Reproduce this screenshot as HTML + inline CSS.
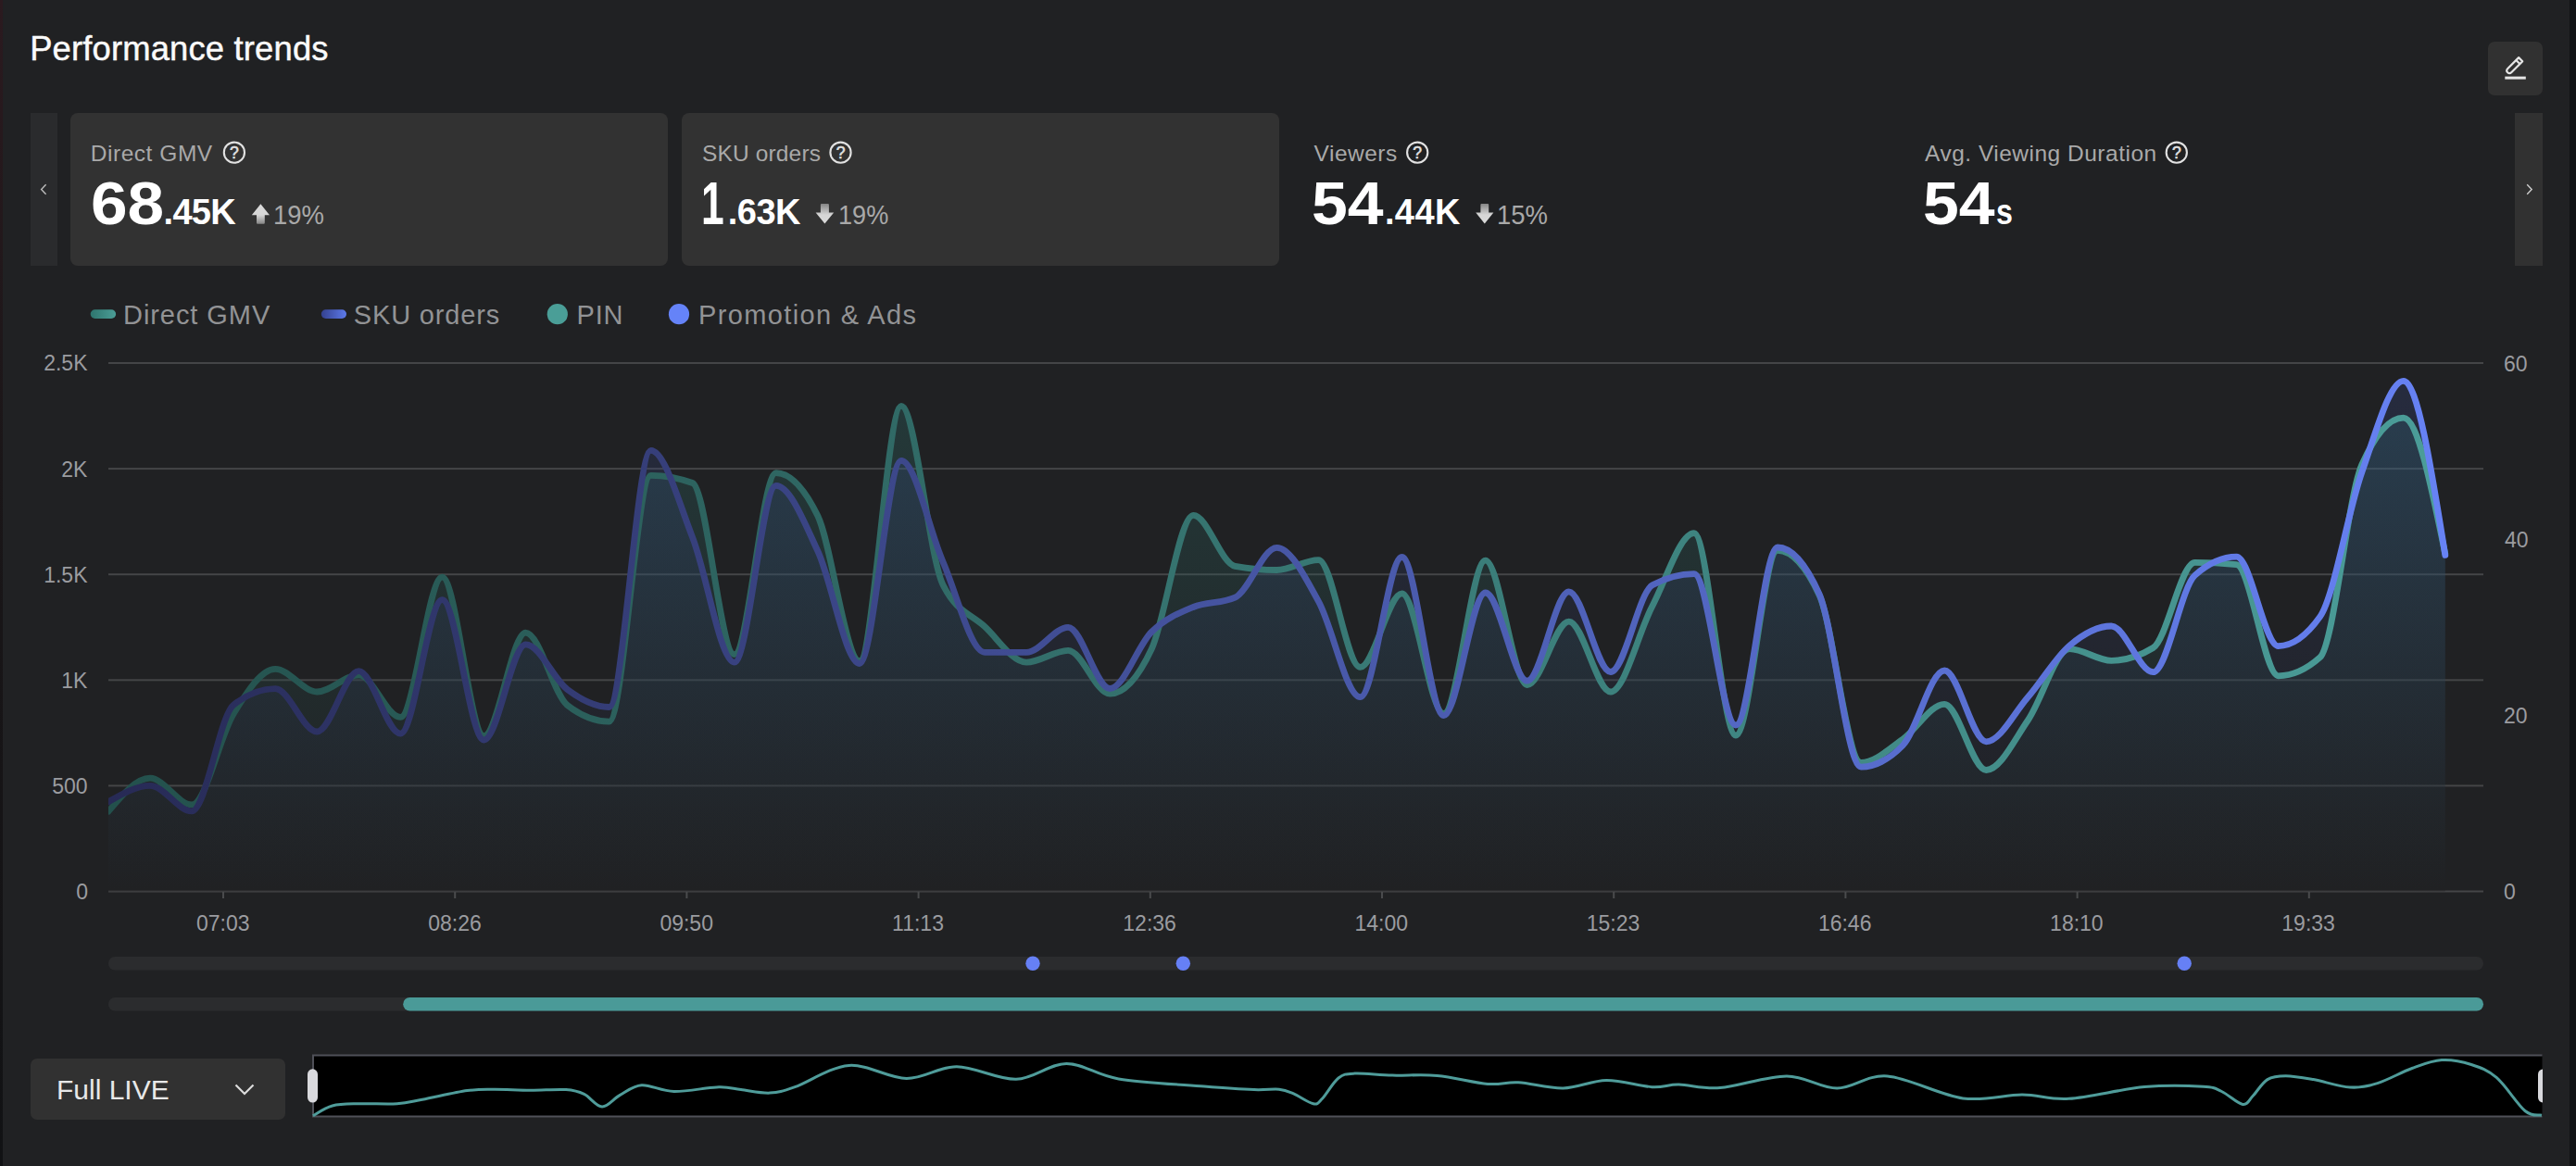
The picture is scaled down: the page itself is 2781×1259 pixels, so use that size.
<!DOCTYPE html>
<html><head><meta charset="utf-8"><title>Performance trends</title>
<style>
*{box-sizing:border-box;margin:0;padding:0}
html,body{width:2781px;height:1259px;overflow:hidden;background:#202123}
body{position:relative;font-family:"Liberation Sans",Arial,sans-serif;color:#fff}
.t{position:absolute;white-space:nowrap;line-height:1}
.lstrip{position:absolute;left:0;top:0;width:3px;height:1259px;background:linear-gradient(#2b1a1f,#1a1618 40%,#111214)}
.rstrip{position:absolute;left:2774px;top:0;width:7px;height:1259px;background:#111214}
.edit{position:absolute;left:2686px;top:44.5px;width:58.8px;height:58.8px;border-radius:7px;background:#313131}
.nav{position:absolute;top:122px;width:29.5px;height:165px;background:#2a2b2d}
.card{position:absolute;top:122px;width:645.2px;height:165px;border-radius:8px;background:#323232}
.chart{position:absolute;left:0;top:0}
.dd{position:absolute;left:33px;top:1143px;width:275px;height:65.7px;border-radius:7px;background:#313131}
</style></head><body>
<div class="lstrip"></div><div class="rstrip"></div>
<div class="edit"></div>
<div class="nav" style="left:32.5px"></div>
<div class="nav" style="left:2715.3px;background:#313131"></div>
<div class="card" style="left:76px"></div>
<div class="card" style="left:736px"></div>
<div class="dd"></div>
<svg class="chart" width="2781" height="1259" viewBox="0 0 2781 1259">
<defs>
<linearGradient id="gT" gradientUnits="userSpaceOnUse" x1="117" y1="0" x2="2640" y2="0">
<stop offset="0" stop-color="#23504c"/><stop offset="1" stop-color="#4b9d99"/></linearGradient>
<linearGradient id="gB" gradientUnits="userSpaceOnUse" x1="117" y1="0" x2="2640" y2="0">
<stop offset="0" stop-color="#272a55"/><stop offset="1" stop-color="#6782f4"/></linearGradient>
<linearGradient id="aT" gradientUnits="userSpaceOnUse" x1="0" y1="440" x2="0" y2="962">
<stop offset="0" stop-color="rgb(50,140,135)" stop-opacity="0.22"/><stop offset="1" stop-color="rgb(32,33,35)" stop-opacity="0.22"/></linearGradient>
<linearGradient id="aB" gradientUnits="userSpaceOnUse" x1="0" y1="410" x2="0" y2="962">
<stop offset="0" stop-color="rgb(60,80,160)" stop-opacity="0.22"/><stop offset="1" stop-color="rgb(32,33,35)" stop-opacity="0.22"/></linearGradient>
<linearGradient id="ag" x1="0" y1="0" x2="0" y2="1"><stop offset="0" stop-color="#dadada"/><stop offset="0.55" stop-color="#d6d6d6"/><stop offset="1" stop-color="#858585"/></linearGradient>
<linearGradient id="ag2" x1="0" y1="1" x2="0" y2="0"><stop offset="0" stop-color="#dadada"/><stop offset="0.45" stop-color="#d6d6d6"/><stop offset="1" stop-color="#858585"/></linearGradient>
<linearGradient id="pT" x1="0" y1="0" x2="1" y2="0"><stop offset="0" stop-color="#2e756e"/><stop offset="1" stop-color="#4b9d96"/></linearGradient>
<linearGradient id="pB" x1="0" y1="0" x2="1" y2="0"><stop offset="0" stop-color="#34418f"/><stop offset="1" stop-color="#5d7aea"/></linearGradient>
<clipPath id="plot"><rect x="117" y="300" width="2600" height="700"/></clipPath>
<clipPath id="cr"><rect x="2600" y="1100" width="144.9" height="120"/></clipPath>
</defs>
<rect x="117" y="391.0" width="2564" height="2" fill="#444547"/>
<rect x="117" y="505.1" width="2564" height="2" fill="#444547"/>
<rect x="117" y="619.2" width="2564" height="2" fill="#444547"/>
<rect x="117" y="733.3" width="2564" height="2" fill="#444547"/>
<rect x="117" y="847.4" width="2564" height="2" fill="#444547"/>
<rect x="117" y="961.5" width="2564" height="2" fill="#444547"/>
<rect x="240.0" y="963" width="2" height="7" fill="#4a4b4d"/>
<rect x="490.2" y="963" width="2" height="7" fill="#4a4b4d"/>
<rect x="740.4" y="963" width="2" height="7" fill="#4a4b4d"/>
<rect x="990.6" y="963" width="2" height="7" fill="#4a4b4d"/>
<rect x="1240.8" y="963" width="2" height="7" fill="#4a4b4d"/>
<rect x="1491.0" y="963" width="2" height="7" fill="#4a4b4d"/>
<rect x="1741.2" y="963" width="2" height="7" fill="#4a4b4d"/>
<rect x="1991.4" y="963" width="2" height="7" fill="#4a4b4d"/>
<rect x="2241.6" y="963" width="2" height="7" fill="#4a4b4d"/>
<rect x="2491.8" y="963" width="2" height="7" fill="#4a4b4d"/>
<path d="M117.00,876.20C132.02,858.20 147.03,840.20 162.05,840.20C177.07,840.20 192.08,868.90 207.10,868.90C222.12,868.90 237.13,795.02 252.15,770.60C267.17,746.18 282.18,722.40 297.20,722.40C312.22,722.40 327.23,747.00 342.25,747.00C357.27,747.00 372.28,728.80 387.30,728.80C402.32,728.80 417.33,774.40 432.35,774.40C447.37,774.40 462.38,623.10 477.40,623.10C492.42,623.10 507.43,794.70 522.45,794.70C537.47,794.70 552.48,683.10 567.50,683.10C582.52,683.10 597.53,749.77 612.55,761.50C627.57,773.23 642.58,779.10 657.60,779.10C672.62,779.10 687.63,513.30 702.65,513.30C717.67,513.30 732.68,516.03 747.70,521.50C762.72,526.97 777.73,706.60 792.75,706.60C807.77,706.60 822.78,510.70 837.80,510.70C852.82,510.70 867.83,526.17 882.85,557.10C897.87,588.03 912.88,713.60 927.90,713.60C942.92,713.60 957.93,438.40 972.95,438.40C987.97,438.40 1002.98,601.27 1018.00,631.40C1033.02,661.53 1048.03,662.65 1063.05,676.60C1078.07,690.55 1093.08,715.10 1108.10,715.10C1123.12,715.10 1138.13,702.40 1153.15,702.40C1168.17,702.40 1183.18,749.20 1198.20,749.20C1213.22,749.20 1228.23,732.95 1243.25,700.80C1258.27,668.65 1273.28,556.30 1288.30,556.30C1303.32,556.30 1318.33,608.50 1333.35,611.30C1348.37,614.10 1363.38,615.50 1378.40,615.50C1393.42,615.50 1408.43,604.60 1423.45,604.60C1438.47,604.60 1453.48,720.40 1468.50,720.40C1483.52,720.40 1498.53,640.80 1513.55,640.80C1528.57,640.80 1543.58,770.50 1558.60,770.50C1573.62,770.50 1588.63,605.20 1603.65,605.20C1618.67,605.20 1633.68,739.50 1648.70,739.50C1663.72,739.50 1678.73,671.10 1693.75,671.10C1708.77,671.10 1723.78,747.00 1738.80,747.00C1753.82,747.00 1768.83,682.85 1783.85,654.30C1798.87,625.75 1813.88,575.70 1828.90,575.70C1843.92,575.70 1858.93,794.00 1873.95,794.00C1888.97,794.00 1903.98,594.40 1919.00,594.40C1934.02,594.40 1949.03,610.43 1964.05,642.50C1979.07,674.57 1994.08,823.50 2009.10,823.50C2024.12,823.50 2039.13,808.73 2054.15,798.20C2069.17,787.67 2084.18,760.30 2099.20,760.30C2114.22,760.30 2129.23,831.50 2144.25,831.50C2159.27,831.50 2174.28,799.50 2189.30,777.70C2204.32,755.90 2219.33,700.70 2234.35,700.70C2249.37,700.70 2264.38,713.30 2279.40,713.30C2294.42,713.30 2309.43,708.70 2324.45,699.50C2339.47,690.30 2354.48,607.40 2369.50,607.40C2384.52,607.40 2399.53,608.13 2414.55,609.60C2429.57,611.07 2444.58,729.80 2459.60,729.80C2474.62,729.80 2489.63,723.13 2504.65,709.80C2519.67,696.47 2534.68,535.93 2549.70,502.00C2564.72,468.07 2579.73,451.10 2594.75,451.10C2609.77,451.10 2624.78,524.55 2639.80,598.00L2639.80,962.5L117.0,962.5Z" fill="url(#aT)"/>
<path d="M117.00,865.80C132.02,857.05 147.03,848.30 162.05,848.30C177.07,848.30 192.08,875.90 207.10,875.90C222.12,875.90 237.13,772.77 252.15,761.10C267.17,749.43 282.18,743.60 297.20,743.60C312.22,743.60 327.23,790.00 342.25,790.00C357.27,790.00 372.28,724.70 387.30,724.70C402.32,724.70 417.33,792.10 432.35,792.10C447.37,792.10 462.38,647.70 477.40,647.70C492.42,647.70 507.43,799.00 522.45,799.00C537.47,799.00 552.48,695.90 567.50,695.90C582.52,695.90 597.53,733.23 612.55,744.50C627.57,755.77 642.58,763.50 657.60,763.50C672.62,763.50 687.63,486.40 702.65,486.40C717.67,486.40 732.68,542.27 747.70,580.40C762.72,618.53 777.73,715.20 792.75,715.20C807.77,715.20 822.78,524.40 837.80,524.40C852.82,524.40 867.83,562.98 882.85,595.00C897.87,627.02 912.88,716.50 927.90,716.50C942.92,716.50 957.93,497.30 972.95,497.30C987.97,497.30 1002.98,572.10 1018.00,606.60C1033.02,641.10 1048.03,704.30 1063.05,704.30C1078.07,704.30 1093.08,704.30 1108.10,704.30C1123.12,704.30 1138.13,677.40 1153.15,677.40C1168.17,677.40 1183.18,743.50 1198.20,743.50C1213.22,743.50 1228.23,696.97 1243.25,682.30C1258.27,667.63 1273.28,661.68 1288.30,655.50C1303.32,649.32 1318.33,652.07 1333.35,645.20C1348.37,638.33 1363.38,591.30 1378.40,591.30C1393.42,591.30 1408.43,622.50 1423.45,649.40C1438.47,676.30 1453.48,752.70 1468.50,752.70C1483.52,752.70 1498.53,601.50 1513.55,601.50C1528.57,601.50 1543.58,772.70 1558.60,772.70C1573.62,772.70 1588.63,640.00 1603.65,640.00C1618.67,640.00 1633.68,735.20 1648.70,735.20C1663.72,735.20 1678.73,638.90 1693.75,638.90C1708.77,638.90 1723.78,725.50 1738.80,725.50C1753.82,725.50 1768.83,639.93 1783.85,631.80C1798.87,623.67 1813.88,619.60 1828.90,619.60C1843.92,619.60 1858.93,783.00 1873.95,783.00C1888.97,783.00 1903.98,591.00 1919.00,591.00C1934.02,591.00 1949.03,607.80 1964.05,641.40C1979.07,675.00 1994.08,828.10 2009.10,828.10C2024.12,828.10 2039.13,820.40 2054.15,805.00C2069.17,789.60 2084.18,724.00 2099.20,724.00C2114.22,724.00 2129.23,800.80 2144.25,800.80C2159.27,800.80 2174.28,770.00 2189.30,752.70C2204.32,735.40 2219.33,709.78 2234.35,697.00C2249.37,684.22 2264.38,676.00 2279.40,676.00C2294.42,676.00 2309.43,725.70 2324.45,725.70C2339.47,725.70 2354.48,634.70 2369.50,621.30C2384.52,607.90 2399.53,601.20 2414.55,601.20C2429.57,601.20 2444.58,697.60 2459.60,697.60C2474.62,697.60 2489.63,687.03 2504.65,665.90C2519.67,644.77 2534.68,552.73 2549.70,510.30C2564.72,467.87 2579.73,411.30 2594.75,411.30C2609.77,411.30 2624.78,505.35 2639.80,599.40L2639.80,962.5L117.0,962.5Z" fill="url(#aB)"/>
<path d="M117.00,876.20C132.02,858.20 147.03,840.20 162.05,840.20C177.07,840.20 192.08,868.90 207.10,868.90C222.12,868.90 237.13,795.02 252.15,770.60C267.17,746.18 282.18,722.40 297.20,722.40C312.22,722.40 327.23,747.00 342.25,747.00C357.27,747.00 372.28,728.80 387.30,728.80C402.32,728.80 417.33,774.40 432.35,774.40C447.37,774.40 462.38,623.10 477.40,623.10C492.42,623.10 507.43,794.70 522.45,794.70C537.47,794.70 552.48,683.10 567.50,683.10C582.52,683.10 597.53,749.77 612.55,761.50C627.57,773.23 642.58,779.10 657.60,779.10C672.62,779.10 687.63,513.30 702.65,513.30C717.67,513.30 732.68,516.03 747.70,521.50C762.72,526.97 777.73,706.60 792.75,706.60C807.77,706.60 822.78,510.70 837.80,510.70C852.82,510.70 867.83,526.17 882.85,557.10C897.87,588.03 912.88,713.60 927.90,713.60C942.92,713.60 957.93,438.40 972.95,438.40C987.97,438.40 1002.98,601.27 1018.00,631.40C1033.02,661.53 1048.03,662.65 1063.05,676.60C1078.07,690.55 1093.08,715.10 1108.10,715.10C1123.12,715.10 1138.13,702.40 1153.15,702.40C1168.17,702.40 1183.18,749.20 1198.20,749.20C1213.22,749.20 1228.23,732.95 1243.25,700.80C1258.27,668.65 1273.28,556.30 1288.30,556.30C1303.32,556.30 1318.33,608.50 1333.35,611.30C1348.37,614.10 1363.38,615.50 1378.40,615.50C1393.42,615.50 1408.43,604.60 1423.45,604.60C1438.47,604.60 1453.48,720.40 1468.50,720.40C1483.52,720.40 1498.53,640.80 1513.55,640.80C1528.57,640.80 1543.58,770.50 1558.60,770.50C1573.62,770.50 1588.63,605.20 1603.65,605.20C1618.67,605.20 1633.68,739.50 1648.70,739.50C1663.72,739.50 1678.73,671.10 1693.75,671.10C1708.77,671.10 1723.78,747.00 1738.80,747.00C1753.82,747.00 1768.83,682.85 1783.85,654.30C1798.87,625.75 1813.88,575.70 1828.90,575.70C1843.92,575.70 1858.93,794.00 1873.95,794.00C1888.97,794.00 1903.98,594.40 1919.00,594.40C1934.02,594.40 1949.03,610.43 1964.05,642.50C1979.07,674.57 1994.08,823.50 2009.10,823.50C2024.12,823.50 2039.13,808.73 2054.15,798.20C2069.17,787.67 2084.18,760.30 2099.20,760.30C2114.22,760.30 2129.23,831.50 2144.25,831.50C2159.27,831.50 2174.28,799.50 2189.30,777.70C2204.32,755.90 2219.33,700.70 2234.35,700.70C2249.37,700.70 2264.38,713.30 2279.40,713.30C2294.42,713.30 2309.43,708.70 2324.45,699.50C2339.47,690.30 2354.48,607.40 2369.50,607.40C2384.52,607.40 2399.53,608.13 2414.55,609.60C2429.57,611.07 2444.58,729.80 2459.60,729.80C2474.62,729.80 2489.63,723.13 2504.65,709.80C2519.67,696.47 2534.68,535.93 2549.70,502.00C2564.72,468.07 2579.73,451.10 2594.75,451.10C2609.77,451.10 2624.78,524.55 2639.80,598.00" fill="none" stroke="url(#gT)" stroke-width="6.8" stroke-linejoin="round" stroke-linecap="round" clip-path="url(#plot)"/>
<path d="M117.00,865.80C132.02,857.05 147.03,848.30 162.05,848.30C177.07,848.30 192.08,875.90 207.10,875.90C222.12,875.90 237.13,772.77 252.15,761.10C267.17,749.43 282.18,743.60 297.20,743.60C312.22,743.60 327.23,790.00 342.25,790.00C357.27,790.00 372.28,724.70 387.30,724.70C402.32,724.70 417.33,792.10 432.35,792.10C447.37,792.10 462.38,647.70 477.40,647.70C492.42,647.70 507.43,799.00 522.45,799.00C537.47,799.00 552.48,695.90 567.50,695.90C582.52,695.90 597.53,733.23 612.55,744.50C627.57,755.77 642.58,763.50 657.60,763.50C672.62,763.50 687.63,486.40 702.65,486.40C717.67,486.40 732.68,542.27 747.70,580.40C762.72,618.53 777.73,715.20 792.75,715.20C807.77,715.20 822.78,524.40 837.80,524.40C852.82,524.40 867.83,562.98 882.85,595.00C897.87,627.02 912.88,716.50 927.90,716.50C942.92,716.50 957.93,497.30 972.95,497.30C987.97,497.30 1002.98,572.10 1018.00,606.60C1033.02,641.10 1048.03,704.30 1063.05,704.30C1078.07,704.30 1093.08,704.30 1108.10,704.30C1123.12,704.30 1138.13,677.40 1153.15,677.40C1168.17,677.40 1183.18,743.50 1198.20,743.50C1213.22,743.50 1228.23,696.97 1243.25,682.30C1258.27,667.63 1273.28,661.68 1288.30,655.50C1303.32,649.32 1318.33,652.07 1333.35,645.20C1348.37,638.33 1363.38,591.30 1378.40,591.30C1393.42,591.30 1408.43,622.50 1423.45,649.40C1438.47,676.30 1453.48,752.70 1468.50,752.70C1483.52,752.70 1498.53,601.50 1513.55,601.50C1528.57,601.50 1543.58,772.70 1558.60,772.70C1573.62,772.70 1588.63,640.00 1603.65,640.00C1618.67,640.00 1633.68,735.20 1648.70,735.20C1663.72,735.20 1678.73,638.90 1693.75,638.90C1708.77,638.90 1723.78,725.50 1738.80,725.50C1753.82,725.50 1768.83,639.93 1783.85,631.80C1798.87,623.67 1813.88,619.60 1828.90,619.60C1843.92,619.60 1858.93,783.00 1873.95,783.00C1888.97,783.00 1903.98,591.00 1919.00,591.00C1934.02,591.00 1949.03,607.80 1964.05,641.40C1979.07,675.00 1994.08,828.10 2009.10,828.10C2024.12,828.10 2039.13,820.40 2054.15,805.00C2069.17,789.60 2084.18,724.00 2099.20,724.00C2114.22,724.00 2129.23,800.80 2144.25,800.80C2159.27,800.80 2174.28,770.00 2189.30,752.70C2204.32,735.40 2219.33,709.78 2234.35,697.00C2249.37,684.22 2264.38,676.00 2279.40,676.00C2294.42,676.00 2309.43,725.70 2324.45,725.70C2339.47,725.70 2354.48,634.70 2369.50,621.30C2384.52,607.90 2399.53,601.20 2414.55,601.20C2429.57,601.20 2444.58,697.60 2459.60,697.60C2474.62,697.60 2489.63,687.03 2504.65,665.90C2519.67,644.77 2534.68,552.73 2549.70,510.30C2564.72,467.87 2579.73,411.30 2594.75,411.30C2609.77,411.30 2624.78,505.35 2639.80,599.40" fill="none" stroke="url(#gB)" stroke-width="6.8" stroke-linejoin="round" stroke-linecap="round" clip-path="url(#plot)"/>
<rect x="117" y="1033" width="2564" height="14.5" rx="7.25" fill="#2b2c2e"/>
<circle cx="1115" cy="1040.2" r="7.7" fill="#6680f5"/>
<circle cx="1277.3" cy="1040.2" r="7.7" fill="#6680f5"/>
<circle cx="2358.2" cy="1040.2" r="7.7" fill="#6680f5"/>
<rect x="117" y="1077" width="2564" height="14.5" rx="7.25" fill="#2b2c2e"/>
<rect x="435.2" y="1077" width="2245.8" height="14.5" rx="7.25" fill="#4a9a98"/>
<rect x="338" y="1139.5" width="2406.5" height="66" fill="#000"/>
<path d="M2744.5,1139.5 H338 V1205.5 H2744.5" fill="none" stroke="#4f5058" stroke-width="2"/>
<path d="M337.90,1204.70C341.38,1202.92 350.45,1196.17 358.80,1194.00C367.15,1191.83 376.35,1192.08 388.00,1191.70C399.65,1191.32 417.38,1192.43 428.70,1191.70C440.02,1190.97 443.28,1189.65 455.90,1187.30C468.52,1184.95 491.47,1179.45 504.40,1177.60C517.33,1175.75 522.18,1176.27 533.50,1176.20C544.82,1176.13 559.37,1177.13 572.30,1177.20C585.23,1177.27 601.38,1175.90 611.10,1176.60C620.82,1177.30 624.12,1178.33 630.60,1181.40C637.08,1184.47 643.53,1194.83 650.00,1195.00C656.47,1195.17 662.28,1186.28 669.40,1182.40C676.52,1178.52 683.00,1172.35 692.70,1171.70C702.40,1171.05 713.70,1178.17 727.60,1178.50C741.50,1178.83 764.03,1174.02 776.10,1173.70C788.17,1173.38 790.83,1175.53 800.00,1176.60C809.17,1177.67 821.40,1180.58 831.10,1180.10C840.80,1179.62 843.97,1178.65 858.20,1173.70C872.43,1168.75 896.43,1151.93 916.50,1150.40C936.57,1148.87 959.20,1164.28 978.60,1164.50C998.00,1164.72 1013.17,1151.57 1032.90,1151.70C1052.63,1151.83 1077.27,1165.85 1097.00,1165.30C1116.73,1164.75 1132.87,1148.47 1151.30,1148.40C1169.73,1148.33 1182.82,1160.78 1207.60,1164.90C1232.38,1169.02 1275.63,1171.15 1300.00,1173.10C1324.37,1175.05 1340.32,1176.08 1353.80,1176.60C1367.28,1177.12 1373.78,1175.48 1380.90,1176.20C1388.02,1176.92 1390.35,1178.32 1396.50,1180.90C1402.65,1183.48 1412.63,1190.80 1417.80,1191.70C1422.97,1192.60 1422.97,1190.92 1427.50,1186.30C1432.03,1181.68 1439.17,1168.53 1445.00,1164.00C1450.83,1159.47 1452.80,1159.58 1462.50,1159.10C1472.20,1158.62 1488.33,1160.72 1503.20,1161.10C1518.07,1161.48 1534.55,1159.85 1551.70,1161.40C1568.85,1162.95 1591.53,1169.17 1606.10,1170.40C1620.67,1171.63 1625.52,1168.03 1639.10,1168.80C1652.68,1169.57 1671.75,1175.38 1687.60,1175.00C1703.45,1174.62 1718.25,1166.72 1734.20,1166.50C1750.15,1166.28 1770.27,1172.93 1783.30,1173.70C1796.33,1174.47 1800.12,1170.95 1812.40,1171.10C1824.68,1171.25 1837.58,1176.12 1857.00,1174.60C1876.42,1173.08 1907.87,1161.93 1928.90,1162.00C1949.93,1162.07 1965.08,1175.00 1983.20,1175.00C2001.32,1175.00 2014.95,1160.18 2037.60,1162.00C2060.25,1163.82 2094.85,1182.57 2119.10,1185.90C2143.35,1189.23 2164.02,1181.93 2183.10,1182.00C2202.18,1182.07 2211.58,1187.70 2233.60,1186.30C2255.62,1184.90 2291.03,1175.78 2315.20,1173.60C2339.37,1171.42 2364.73,1172.38 2378.60,1173.20C2392.47,1174.02 2391.30,1175.30 2398.40,1178.50C2405.50,1181.70 2415.60,1191.57 2421.20,1192.40C2426.80,1193.23 2427.55,1187.97 2432.00,1183.50C2436.45,1179.03 2441.95,1169.23 2447.90,1165.60C2453.85,1161.97 2459.45,1161.70 2467.70,1161.70C2475.95,1161.70 2485.85,1163.55 2497.40,1165.60C2508.95,1167.65 2525.45,1173.33 2537.00,1174.00C2548.55,1174.67 2555.53,1173.02 2566.70,1169.60C2577.87,1166.18 2592.45,1157.67 2604.00,1153.50C2615.55,1149.33 2625.33,1145.27 2636.00,1144.60C2646.67,1143.93 2658.10,1146.32 2668.00,1149.50C2677.90,1152.68 2685.73,1155.37 2695.40,1163.70C2705.07,1172.03 2717.90,1192.75 2726.00,1199.50C2734.10,1206.25 2741.00,1203.42 2744.00,1204.20" fill="none" stroke="#4f9c9a" stroke-width="3"/>
<rect x="332" y="1154.3" width="11" height="36.3" rx="5.5" fill="#d9d9dd"/>
<rect x="2740" y="1154.5" width="11" height="36" rx="5.5" fill="#d9d9dd" clip-path="url(#cr)"/>
<path d="M254.5,1171.5 L264,1181 L273.5,1171.5" fill="none" stroke="#dcdcdc" stroke-width="2.2"/>
<g transform="translate(2714.7,70.7) rotate(-45)" fill="none" stroke="#e6e6e6" stroke-width="2.2" stroke-linejoin="round">
<path d="M-7.5,-2.9 L9.2,-2.9 L9.2,2.9 L-7.5,2.9 Q-10.6,2.9 -10.6,0 Q-10.6,-2.9 -7.5,-2.9 Z"/>
<path d="M5.2,-2.9 L5.2,2.9"/></g>
<rect x="2704.3" y="82.6" width="22.5" height="3" fill="#e6e6e6"/>
<path d="M49.6,199.3 L44.6,204.5 L49.6,209.7" fill="none" stroke="#c0c0c0" stroke-width="1.35"/>
<path d="M2728.2,199.3 L2733.2,204.5 L2728.2,209.7" fill="none" stroke="#d0d0d0" stroke-width="1.35"/>
<circle cx="252.9" cy="164.7" r="11.1" fill="none" stroke="#e2e2e2" stroke-width="2.1"/>
<text x="252.9" y="171.0" text-anchor="middle" font-family="Liberation Sans, sans-serif" font-size="17.5" fill="#e2e2e2" stroke="#e2e2e2" stroke-width="0.55">?</text>
<circle cx="907.5" cy="164.7" r="11.1" fill="none" stroke="#e2e2e2" stroke-width="2.1"/>
<text x="907.5" y="171.0" text-anchor="middle" font-family="Liberation Sans, sans-serif" font-size="17.5" fill="#e2e2e2" stroke="#e2e2e2" stroke-width="0.55">?</text>
<circle cx="1530.2" cy="164.7" r="11.1" fill="none" stroke="#e2e2e2" stroke-width="2.1"/>
<text x="1530.2" y="171.0" text-anchor="middle" font-family="Liberation Sans, sans-serif" font-size="17.5" fill="#e2e2e2" stroke="#e2e2e2" stroke-width="0.55">?</text>
<circle cx="2349.8" cy="164.7" r="11.1" fill="none" stroke="#e2e2e2" stroke-width="2.1"/>
<text x="2349.8" y="171.0" text-anchor="middle" font-family="Liberation Sans, sans-serif" font-size="17.5" fill="#e2e2e2" stroke="#e2e2e2" stroke-width="0.55">?</text>
<path d="M281.4,220.3 L291.0,232.3 L285.8,232.3 L285.8,240.7 Q285.8,241.7 284.8,241.7 L278.0,241.7 Q277.0,241.7 277.0,240.7 L277.0,232.3 L271.8,232.3 Z" fill="url(#ag)"/>
<path d="M890.4,241.6 L900.2,229.6 L894.9,229.6 L894.9,221.1 Q894.9,220.1 893.9,220.1 L886.9,220.1 Q885.9,220.1 885.9,221.1 L885.9,229.6 L880.6,229.6 Z" fill="url(#ag2)"/>
<path d="M1602.8,241.6 L1612.4,229.5 L1607.2,229.5 L1607.2,221.0 Q1607.2,220.0 1606.2,220.0 L1599.4,220.0 Q1598.4,220.0 1598.4,221.0 L1598.4,229.5 L1593.2,229.5 Z" fill="url(#ag2)"/>
<rect x="97.7" y="334.2" width="27.4" height="9.8" rx="4.9" fill="url(#pT)"/>
<rect x="346.8" y="334.2" width="27.2" height="9.8" rx="4.9" fill="url(#pB)"/>
<circle cx="601.8" cy="339.2" r="11.1" fill="#4a9e97"/>
<circle cx="733" cy="339.2" r="11.1" fill="#6583f8"/>
</svg>
<div class="t" style="left:32.20px;top:35.20px;font-family:'Liberation Sans',sans-serif;font-size:36.4px;-webkit-text-stroke:0.45px #fafafa;letter-spacing:0.16px;color:#fafafa">Performance trends</div>
<div class="t" style="left:97.80px;top:153.80px;font-family:'Liberation Sans',sans-serif;font-size:24.5px;letter-spacing:0.53px;color:#a9a9a9">Direct GMV</div>
<div class="t" style="left:757.90px;top:153.80px;font-family:'Liberation Sans',sans-serif;font-size:24.5px;letter-spacing:0.16px;color:#a9a9a9">SKU orders</div>
<div class="t" style="left:1418.60px;top:153.80px;font-family:'Liberation Sans',sans-serif;font-size:24.5px;letter-spacing:0.48px;color:#a9a9a9">Viewers</div>
<div class="t" style="left:2078.00px;top:153.80px;font-family:'Liberation Sans',sans-serif;font-size:24.5px;letter-spacing:0.50px;color:#a9a9a9">Avg. Viewing Duration</div>
<div class="t" style="left:98.18px;top:187.90px;font-family:'Liberation Sans',sans-serif;font-size:64px;font-weight:bold;transform:scaleX(1.1119);transform-origin:0 0;color:#fff">68</div>
<div class="t" style="left:756.83px;top:187.90px;font-family:'Liberation Sans',sans-serif;font-size:64px;font-weight:bold;transform:scaleX(0.6933);transform-origin:0 0;color:#fff">1</div>
<div class="t" style="left:1416.42px;top:187.90px;font-family:'Liberation Sans',sans-serif;font-size:64px;font-weight:bold;transform:scaleX(1.0899);transform-origin:0 0;color:#fff">54</div>
<div class="t" style="left:2076.42px;top:187.90px;font-family:'Liberation Sans',sans-serif;font-size:64px;font-weight:bold;transform:scaleX(1.0899);transform-origin:0 0;color:#fff">54</div>
<div class="t" style="left:176.60px;top:209.90px;font-family:'Liberation Sans',sans-serif;font-size:38px;font-weight:bold;letter-spacing:-0.73px;color:#fff">.45K</div>
<div class="t" style="left:785.80px;top:209.90px;font-family:'Liberation Sans',sans-serif;font-size:38px;font-weight:bold;letter-spacing:-0.53px;color:#fff">.63K</div>
<div class="t" style="left:1494.90px;top:209.90px;font-family:'Liberation Sans',sans-serif;font-size:38px;font-weight:bold;letter-spacing:0.40px;color:#fff">.44K</div>
<div class="t" style="left:2154.85px;top:209.90px;font-family:'Liberation Sans',sans-serif;font-size:38px;font-weight:bold;transform:scaleX(0.8474);transform-origin:0 0;color:#fff">s</div>
<div class="t" style="left:294.77px;top:216.60px;font-family:'Liberation Sans',sans-serif;font-size:30px;transform:scaleX(0.9158);transform-origin:0 0;color:#a9a9a9">19%</div>
<div class="t" style="left:904.69px;top:216.60px;font-family:'Liberation Sans',sans-serif;font-size:30px;transform:scaleX(0.9035);transform-origin:0 0;color:#a9a9a9">19%</div>
<div class="t" style="left:1616.17px;top:216.60px;font-family:'Liberation Sans',sans-serif;font-size:30px;transform:scaleX(0.9158);transform-origin:0 0;color:#a9a9a9">15%</div>
<div class="t" style="left:133.00px;top:325.50px;font-family:'Liberation Sans',sans-serif;font-size:29px;letter-spacing:0.94px;color:#929395">Direct GMV</div>
<div class="t" style="left:381.80px;top:325.50px;font-family:'Liberation Sans',sans-serif;font-size:29px;letter-spacing:0.84px;color:#929395">SKU orders</div>
<div class="t" style="left:622.60px;top:325.50px;font-family:'Liberation Sans',sans-serif;font-size:29px;letter-spacing:0.70px;color:#929395">PIN</div>
<div class="t" style="left:754.00px;top:325.50px;font-family:'Liberation Sans',sans-serif;font-size:29px;letter-spacing:1.36px;color:#929395">Promotion &amp; Ads</div>
<div class="t" style="left:47.20px;top:381.40px;font-family:'Liberation Sans',sans-serif;font-size:23px;color:#9b9ca0">2.5K</div>
<div class="t" style="left:66.20px;top:495.50px;font-family:'Liberation Sans',sans-serif;font-size:23px;color:#9b9ca0">2K</div>
<div class="t" style="left:47.20px;top:609.60px;font-family:'Liberation Sans',sans-serif;font-size:23px;color:#9b9ca0">1.5K</div>
<div class="t" style="left:66.20px;top:723.70px;font-family:'Liberation Sans',sans-serif;font-size:23px;color:#9b9ca0">1K</div>
<div class="t" style="left:56.20px;top:837.80px;font-family:'Liberation Sans',sans-serif;font-size:23px;color:#9b9ca0">500</div>
<div class="t" style="left:82.20px;top:951.90px;font-family:'Liberation Sans',sans-serif;font-size:23px;color:#9b9ca0">0</div>
<div class="t" style="left:2703.00px;top:381.50px;font-family:'Liberation Sans',sans-serif;font-size:23px;color:#9b9ca0">60</div>
<div class="t" style="left:2704.00px;top:571.50px;font-family:'Liberation Sans',sans-serif;font-size:23px;color:#9b9ca0">40</div>
<div class="t" style="left:2703.00px;top:761.50px;font-family:'Liberation Sans',sans-serif;font-size:23px;color:#9b9ca0">20</div>
<div class="t" style="left:2703.00px;top:951.50px;font-family:'Liberation Sans',sans-serif;font-size:23px;color:#9b9ca0">0</div>
<div class="t" style="left:212.00px;top:985.50px;font-family:'Liberation Sans',sans-serif;font-size:23px;color:#9b9ca0">07:03</div>
<div class="t" style="left:462.20px;top:985.50px;font-family:'Liberation Sans',sans-serif;font-size:23px;color:#9b9ca0">08:26</div>
<div class="t" style="left:712.40px;top:985.50px;font-family:'Liberation Sans',sans-serif;font-size:23px;color:#9b9ca0">09:50</div>
<div class="t" style="left:963.10px;top:985.50px;font-family:'Liberation Sans',sans-serif;font-size:23px;color:#9b9ca0">11:13</div>
<div class="t" style="left:1212.30px;top:985.50px;font-family:'Liberation Sans',sans-serif;font-size:23px;color:#9b9ca0">12:36</div>
<div class="t" style="left:1462.50px;top:985.50px;font-family:'Liberation Sans',sans-serif;font-size:23px;color:#9b9ca0">14:00</div>
<div class="t" style="left:1712.70px;top:985.50px;font-family:'Liberation Sans',sans-serif;font-size:23px;color:#9b9ca0">15:23</div>
<div class="t" style="left:1962.90px;top:985.50px;font-family:'Liberation Sans',sans-serif;font-size:23px;color:#9b9ca0">16:46</div>
<div class="t" style="left:2213.10px;top:985.50px;font-family:'Liberation Sans',sans-serif;font-size:23px;color:#9b9ca0">18:10</div>
<div class="t" style="left:2463.30px;top:985.50px;font-family:'Liberation Sans',sans-serif;font-size:23px;color:#9b9ca0">19:33</div>
<div class="t" style="left:61.00px;top:1161.50px;font-family:'Liberation Sans',sans-serif;font-size:30px;color:#e8e8e8">Full LIVE</div>
</body></html>
